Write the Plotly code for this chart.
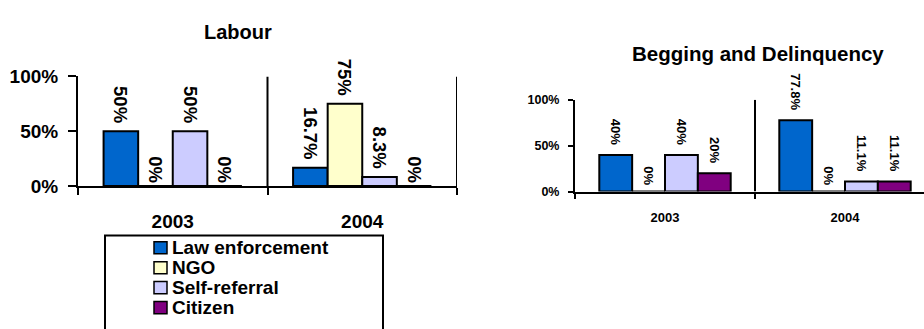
import plotly.graph_objects as go

# Referral sources by year, in percent
years = ["2003", "2004"]
series = ["Law enforcement", "NGO", "Self-referral", "Citizen"]
colors = ["#0066CC", "#FFFFCC", "#CCCCFF", "#800080"]

labour = {
    "Law enforcement": [50, 16.7],
    "NGO": [0, 75],
    "Self-referral": [50, 8.3],
    "Citizen": [0, 0],
}
begging = {
    "Law enforcement": [40, 77.8],
    "NGO": [0, 0],
    "Self-referral": [40, 11.1],
    "Citizen": [20, 11.1],
}

y_ticks = [0, 50, 100]
y_ticktext = ["0%", "50%", "100%"]

W, H = 924, 329
FONT = "Arial, Liberation Sans, sans-serif"
NBSP = "\u00a0"


def px(x):
    return x / W


def py(y):
    return (H - y) / H


def pct_labels(values, pad_nonzero, pad_zero):
    # rotated labels read downward, so trailing padding lifts them off the bar
    return [f"{v:g}%" + NBSP * (pad_nonzero if v else pad_zero) for v in values]


fig = go.Figure()

for name, col in zip(series, colors):
    fig.add_trace(go.Bar(
        x=years, y=labour[name], name=name, marker_color=col,
        marker_line=dict(color="black", width=2),
        text=pct_labels(labour[name], 1, 0), texttemplate="%{text}",
        textposition="outside", textangle=90,
        constraintext="none", cliponaxis=False,
        textfont=dict(family=FONT, size=18.5, color="black", weight="bold"),
        xaxis="x", yaxis="y", showlegend=False, hoverinfo="skip",
    ))
    fig.add_trace(go.Bar(
        x=years, y=begging[name], name=name, marker_color=col,
        marker_line=dict(color="black", width=2),
        text=pct_labels(begging[name], 2, 1), texttemplate="%{text}",
        textposition="outside", textangle=90,
        constraintext="none", cliponaxis=False,
        textfont=dict(family=FONT, size=13, color="black", weight="bold"),
        xaxis="x2", yaxis="y2", showlegend=False, hoverinfo="skip",
    ))

axis_common = dict(showline=True, linecolor="black", linewidth=2,
                   ticks="outside", tickcolor="black", tickwidth=2,
                   showgrid=False, zeroline=False, fixedrange=True)

right_range_end = -0.5 + (W - 575) / 180.0

fig.update_layout(
    width=W, height=H,
    margin=dict(l=0, r=0, t=0, b=0),
    paper_bgcolor="white", plot_bgcolor="white",
    barmode="group", bargap=0.27, bargroupgap=0,
    showlegend=False,
    xaxis=dict(domain=[px(78), px(457)], anchor="y", type="category",
               range=[-0.5, 1.5], tickson="boundaries", ticklen=7,
               ticklabelstandoff=17,
               tickfont=dict(family=FONT, size=19, color="black", weight="bold"),
               **axis_common),
    yaxis=dict(domain=[py(188), py(71)], anchor="x", range=[0, 100],
               tickvals=y_ticks, ticktext=y_ticktext, ticklen=8,
               ticklabelstandoff=6,
               tickfont=dict(family=FONT, size=19, color="black", weight="bold"),
               **axis_common),
    xaxis2=dict(domain=[px(575), 1.0], anchor="y2", type="category",
                range=[-0.5, right_range_end], tickson="boundaries", ticklen=5,
                ticklabelstandoff=13,
                tickfont=dict(family=FONT, size=13, color="black", weight="bold"),
                **axis_common),
    yaxis2=dict(domain=[py(194), py(96)], anchor="x2", range=[0, 100],
                tickvals=y_ticks, ticktext=y_ticktext, ticklen=5,
                ticklabelstandoff=6,
                tickfont=dict(family=FONT, size=12.5, color="black", weight="bold"),
                **axis_common),
)

# Category dividers running the full plot height
shapes = []
for xv in [0.5, 1.5]:
    shapes.append(dict(type="line", xref="x", yref="y", x0=xv, x1=xv, y0=0, y1=100,
                       line=dict(color="black", width=2)))
shapes.append(dict(type="line", xref="x2", yref="y2", x0=0.5, x1=0.5, y0=0, y1=100,
                   line=dict(color="black", width=2)))

# Legend frame and swatches
shapes.append(dict(type="rect", xref="paper", yref="paper",
                   x0=px(105), x1=px(383), y0=py(241), y1=py(345),
                   line=dict(color="black", width=2), fillcolor="white"))
row_y = [254, 275.3, 296.6, 318]
annotations = []
for name, col, ry in zip(series, colors, row_y):
    shapes.append(dict(type="rect", xref="paper", yref="paper",
                       x0=px(154), x1=px(167), y0=py(ry + 6.5), y1=py(ry - 6.5),
                       line=dict(color="black", width=1.5), fillcolor=col))
    annotations.append(dict(xref="paper", yref="paper", x=px(170), y=py(ry),
                            xanchor="left", yanchor="middle", showarrow=False,
                            text=name,
                            font=dict(family=FONT, size=19, color="black", weight="bold")))

# Chart titles
annotations.append(dict(xref="paper", yref="paper", x=px(238), y=py(23),
                        xanchor="center", yanchor="middle", showarrow=False,
                        text="Labour",
                        font=dict(family=FONT, size=20, color="black", weight="bold")))
annotations.append(dict(xref="paper", yref="paper", x=px(758), y=py(46),
                        xanchor="center", yanchor="middle", showarrow=False,
                        text="Begging and Delinquency",
                        font=dict(family=FONT, size=20.5, color="black", weight="bold")))

fig.update_layout(shapes=shapes, annotations=annotations)

fig.write_html("out.html")
